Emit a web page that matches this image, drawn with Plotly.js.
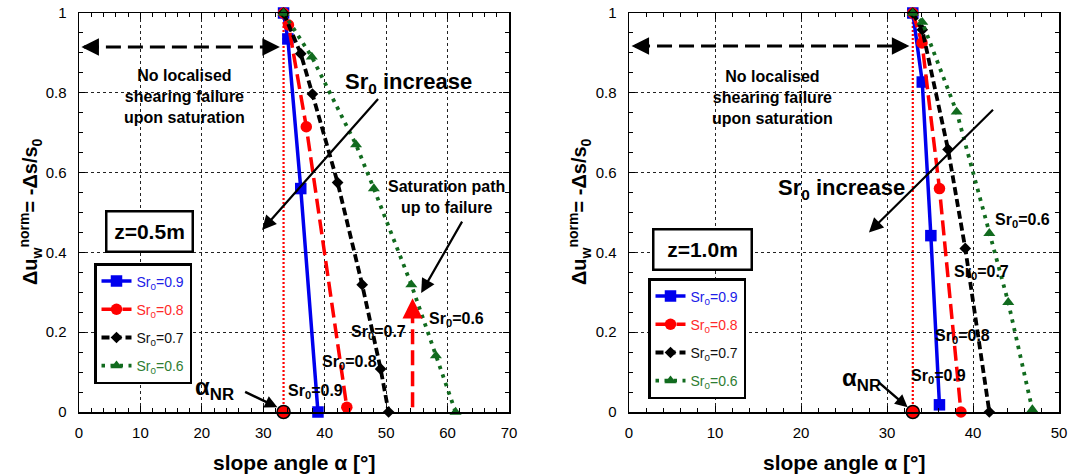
<!DOCTYPE html>
<html>
<head>
<meta charset="utf-8">
<script src="https://cdn.plot.ly/plotly-3.0.1.min.js"></script>
<style>html,body{margin:0;padding:0;background:#fff;}#chart{width:1086px;height:475px;}</style>
</head>
<body>
<div id="chart"></div>
<script>
// ---------- data: z = 0.5 m ----------
const alpha_z05_sr09 = [33.3, 34.0, 36.1, 38.9];
const du_z05_sr09    = [1.0, 0.935, 0.56, 0.0];
const alpha_z05_sr08 = [33.3, 34.1, 37.0, 43.6];
const du_z05_sr08    = [1.0, 0.97, 0.715, 0.012];
const alpha_z05_sr07 = [33.3, 36.1, 38.0, 42.1, 46.1, 49.1, 50.4];
const du_z05_sr07    = [1.0, 0.898, 0.797, 0.575, 0.319, 0.108, 0.0];
const alpha_z05_sr06 = [33.3, 37.9, 45.1, 48.0, 54.1, 58.1, 61.3];
const du_z05_sr06    = [1.0, 0.89, 0.67, 0.56, 0.319, 0.141, 0.0];
const alphaNR_z05 = [33.3];

// ---------- data: z = 1.0 m ----------
const alpha_z10_sr09 = [33.0, 34.1, 35.1, 36.1];
const du_z10_sr09    = [1.0, 0.827, 0.442, 0.018];
const alpha_z10_sr08 = [33.0, 34.07, 36.1, 38.6];
const du_z10_sr08    = [1.0, 0.925, 0.56, 0.0];
const alpha_z10_sr07 = [33.0, 34.1, 37.1, 39.1, 41.9];
const du_z10_sr07    = [1.0, 0.958, 0.658, 0.41, 0.0];
const alpha_z10_sr06 = [33.0, 34.1, 38.1, 41.9, 44.1, 46.9];
const du_z10_sr06    = [1.0, 0.977, 0.752, 0.448, 0.275, 0.006];
const alphaNR_z10 = [33.0];

const seriesNames = ['Sr0=0.9', 'Sr0=0.8', 'Sr0=0.7', 'Sr0=0.6'];
const xTicks05 = [0, 10, 20, 30, 40, 50, 60, 70];
const xTicks10 = [0, 10, 20, 30, 40, 50];
const yTicks = [0, 0.2, 0.4, 0.6, 0.8, 1];

// ---------- styles ----------
const BLUE = '#0000ee', RED = '#ff0000', BLACK = '#000000', GREEN = '#116b1e';
const FONT = 'Liberation Sans, Arial, sans-serif';
const styles = [
  {color: BLUE,  dash: 'solid',      width: 3.5, symbol: 'square',      size: 11.5, text: '#2020e8'},
  {color: RED,   dash: '15px,6px',   width: 3.5, symbol: 'circle',      size: 11.5, text: '#ff2a2a'},
  {color: BLACK, dash: '8px,4px',    width: 3.8, symbol: 'diamond',     size: 9, text: '#111111'},
  {color: GREEN, dash: '3.5px,5.5px',width: 3.8, symbol: 'triangle-up', size: 10.5, text: '#2e7d32'}
];
function legName(i) {
  const v = seriesNames[i].split('=')[1];
  return '<span style="color:' + styles[i].text + '">Sr<sub>0</sub>=' + v + '</span>';
}

function mk(xs, ys, i, xa, ya, leg) {
  const s = styles[i];
  return {
    x: xs, y: ys, xaxis: xa, yaxis: ya, type: 'scatter', mode: 'lines+markers',
    name: legName(i), legend: leg, legendgroup: leg + 'g' + i, cliponaxis: false,
    line: {color: s.color, dash: s.dash, width: s.width},
    marker: {color: s.color, symbol: s.symbol, size: s.size, line: {width: 0}},
    hoverinfo: 'skip'
  };
}
function nrVert(a, xa, ya) {
  return {x: [a[0], a[0]], y: [0, 1], xaxis: xa, yaxis: ya, type: 'scatter', mode: 'lines',
    showlegend: false, cliponaxis: false, line: {color: RED, dash: '2px,2px', width: 2.2}, hoverinfo: 'skip'};
}
function nrPoint(a, xa, ya) {
  return {x: a, y: [0], xaxis: xa, yaxis: ya, type: 'scatter', mode: 'markers', showlegend: false,
    cliponaxis: false, marker: {color: RED, symbol: 'circle', size: 13, line: {color: BLACK, width: 1.5}}, hoverinfo: 'skip'};
}

const traces = [
  nrVert(alphaNR_z05, 'x', 'y'),
  mk(alpha_z05_sr09, du_z05_sr09, 0, 'x', 'y', 'legend'),
  mk(alpha_z05_sr08, du_z05_sr08, 1, 'x', 'y', 'legend'),
  mk(alpha_z05_sr07, du_z05_sr07, 2, 'x', 'y', 'legend'),
  mk(alpha_z05_sr06, du_z05_sr06, 3, 'x', 'y', 'legend'),
  nrPoint(alphaNR_z05, 'x', 'y'),
  nrVert(alphaNR_z10, 'x2', 'y2'),
  mk(alpha_z10_sr09, du_z10_sr09, 0, 'x2', 'y2', 'legend2'),
  mk(alpha_z10_sr08, du_z10_sr08, 1, 'x2', 'y2', 'legend2'),
  mk(alpha_z10_sr07, du_z10_sr07, 2, 'x2', 'y2', 'legend2'),
  mk(alpha_z10_sr06, du_z10_sr06, 3, 'x2', 'y2', 'legend2'),
  nrPoint(alphaNR_z10, 'x2', 'y2')
];

const W = 1086, H = 475;
function xd(l, r) { return [l / W, r / W]; }
function yd(t, b) { return [1 - b / H, 1 - t / H]; }

function xaxisDef(range, ticks, dom, anchor) {
  return {
    domain: dom, range: range, anchor: anchor, tickvals: ticks, ticks: 'inside', ticklen: 6, tickwidth: 1,
    tickcolor: BLACK, showline: true, linecolor: BLACK, linewidth: 1.5, mirror: 'allticks',
    showgrid: true, gridcolor: '#222', griddash: 'dot', gridwidth: 1, zeroline: false,
    minor: {dtick: 2, ticks: 'inside', ticklen: 4, tickcolor: BLACK, tickwidth: 1, showgrid: false},
    tickfont: {family: FONT, size: 15, color: BLACK}, ticklabelstandoff: 6, fixedrange: true
  };
}
function yaxisDef(dom, anchor) {
  return {
    domain: dom, range: [0, 1], anchor: anchor, tickvals: yTicks, ticks: 'inside', ticklen: 6, tickwidth: 1,
    tickcolor: BLACK, showline: true, linecolor: BLACK, linewidth: 1.5, mirror: 'allticks',
    showgrid: true, gridcolor: '#222', griddash: 'dot', gridwidth: 1, zeroline: false,
    minor: {dtick: 0.05, ticks: 'inside', ticklen: 4, tickcolor: BLACK, tickwidth: 1, showgrid: false},
    tickfont: {family: FONT, size: 15, color: BLACK}, ticklabelstandoff: 8, fixedrange: true
  };
}

const bold = (sz, c) => ({family: FONT, size: sz, color: c || BLACK, weight: 'bold'});

function panelAnn(xr, yr, o) {
  const A = [];
  const t = (x, y, text, sz, extra) => A.push(Object.assign({xref: xr, yref: yr, x: x, y: y, text: text,
    showarrow: false, font: bold(sz), align: 'center'}, extra || {}));
  const arr = (x, y, ax, ay, color, w, size) => A.push({xref: xr, yref: yr, axref: xr, ayref: yr,
    x: x, y: y, ax: ax, ay: ay, text: '', showarrow: true, arrowhead: 2, arrowsize: size || 1.2,
    arrowwidth: w || 2, arrowcolor: color || BLACK, standoff: 0, startstandoff: 0});
  t(o.noLoc[0], o.noLoc[1], 'No localised<br>shearing failure<br>upon saturation', 16);
  t(o.inc[0], o.inc[1], 'Sr<sub>0</sub> increase', 22);
  arr(o.incArr[0], o.incArr[1], o.incArr[2], o.incArr[3], BLACK, 2.2, 1.3);
  // double arrow heads
  arr(o.dbl[0], o.dbl[2], o.dbl[0] + 2, o.dbl[2], BLACK, 2.5, 1.4);
  arr(o.dbl[1], o.dbl[2], o.dbl[1] - 2, o.dbl[2], BLACK, 2.5, 1.4);
  // z box
  A.push({xref: xr, yref: yr, x: o.z[0], y: o.z[1], text: o.z[2], showarrow: false, font: bold(21),
    bordercolor: BLACK, borderwidth: 2.5, bgcolor: '#fff', width: o.z[3], height: 36, borderpad: 1});
  // Sr labels
  o.labels.forEach(l => t(l[0], l[1], 'Sr<sub>0</sub>=' + l[2], 16, {xanchor: 'left'}));
  // alpha NR
  t(o.nr[0], o.nr[1], 'α<sub>NR</sub>', 24);
  arr(o.nrArr[0], o.nrArr[1], o.nrArr[2], o.nrArr[3], BLACK, 2.5, 1.0);
  if (o.sat) {
    t(o.sat[0], o.sat[1], 'Saturation path<br>up to failure', 16);
    arr(o.satArr[0], o.satArr[1], o.satArr[2], o.satArr[3], BLACK, 2.2, 1.3);
    arr(o.red[0], o.red[2], o.red[0], o.red[2] - 0.05, RED, 3.5, 1.15);
  }
  return A;
}

const ann05 = panelAnn('x', 'y', {
  noLoc: [17.1, 0.79], inc: [53.6, 0.825], incArr: [29.8, 0.456, 48.9, 0.788],
  dbl: [0.4, 32.7, 0.915], z: [11.4, 0.452, 'z=0.5m', 82],
  labels: [[56.6, 0.232, '0.6'], [44.0, 0.2, '0.7'], [39.3, 0.124, '0.8'], [33.7, 0.052, '0.9']],
  nr: [22.0, 0.058], nrArr: [32.3, 0.012, 26.8, 0.052],
  sat: [59.8, 0.54], satArr: [55.7, 0.298, 62.5, 0.481], red: [54.3, 0.01, 0.285]
});
const ann10 = panelAnn('x2', 'y2', {
  noLoc: [16.7, 0.788], inc: [24.7, 0.56], incArr: [27.9, 0.45, 42.5, 0.761],
  dbl: [0.3, 32.6, 0.917], z: [8.55, 0.408, 'z=1.0m', 94],
  labels: [[42.3, 0.48, '0.6'], [37.5, 0.35, '0.7'], [35.4, 0.19, '0.8'], [32.5, 0.09, '0.9']],
  nr: [27.0, 0.082], nrArr: [32.4, 0.012, 28.9, 0.077]
});

const shapes = [
  {type: 'line', xref: 'x', yref: 'y', x0: 0.8, x1: 32.3, y0: 0.915, y1: 0.915, line: {color: BLACK, width: 3, dash: '15px,7px'}},
  {type: 'line', xref: 'x', yref: 'y', x0: 54.3, x1: 54.3, y0: 0.012, y1: 0.25, line: {color: RED, width: 3.5, dash: '15px,6px'}},
  {type: 'line', xref: 'x2', yref: 'y2', x0: 0.7, x1: 32.2, y0: 0.917, y1: 0.917, line: {color: BLACK, width: 3, dash: '15px,7px'}}
];

const common = [
  {xref: 'paper', yref: 'paper', x: 295 / W, y: 1 - 462 / H, xanchor: 'center', yanchor: 'middle', text: 'slope angle α [°]', showarrow: false, font: bold(21)},
  {xref: 'paper', yref: 'paper', x: 844 / W, y: 1 - 462 / H, xanchor: 'center', yanchor: 'middle', text: 'slope angle α [°]', showarrow: false, font: bold(21)},
  {xref: 'paper', yref: 'paper', x: 30 / W, y: 1 - 212 / H, xanchor: 'center', yanchor: 'middle', text: 'Δu<sub>w</sub><sup>norm</sup>= -Δs/s<sub>0</sub>', textangle: -90, showarrow: false, font: bold(20)},
  {xref: 'paper', yref: 'paper', x: 579 / W, y: 1 - 212 / H, xanchor: 'center', yanchor: 'middle', text: 'Δu<sub>w</sub><sup>norm</sup>= -Δs/s<sub>0</sub>', textangle: -90, showarrow: false, font: bold(20)}
];

const legendBase = {
  xanchor: 'left', yanchor: 'top', bgcolor: '#fff', bordercolor: BLACK, borderwidth: 2.5,
  font: {family: FONT, size: 14, color: BLACK}, traceorder: 'grouped', tracegroupgap: 7, itemclick: false, itemdoubleclick: false
};

const layout = {
  width: W, height: H, margin: {l: 0, r: 0, t: 0, b: 0}, paper_bgcolor: '#fff', plot_bgcolor: '#fff',
  font: {family: FONT, color: BLACK},
  showlegend: true,
  xaxis: xaxisDef([0, 70], xTicks05, xd(79, 509), 'y'),
  yaxis: yaxisDef(yd(13, 412), 'x'),
  xaxis2: xaxisDef([0, 50], xTicks10, xd(629, 1059), 'y2'),
  yaxis2: yaxisDef(yd(13, 412), 'x2'),
  legend: Object.assign({x: 94 / W, y: 1 - 263 / H}, legendBase),
  legend2: Object.assign({x: 648 / W, y: 1 - 278 / H}, legendBase),
  annotations: ann05.concat(ann10).concat(common),
  shapes: shapes
};

Plotly.newPlot('chart', traces, layout, {displayModeBar: false, staticPlot: true});
</script>
</body>
</html>
